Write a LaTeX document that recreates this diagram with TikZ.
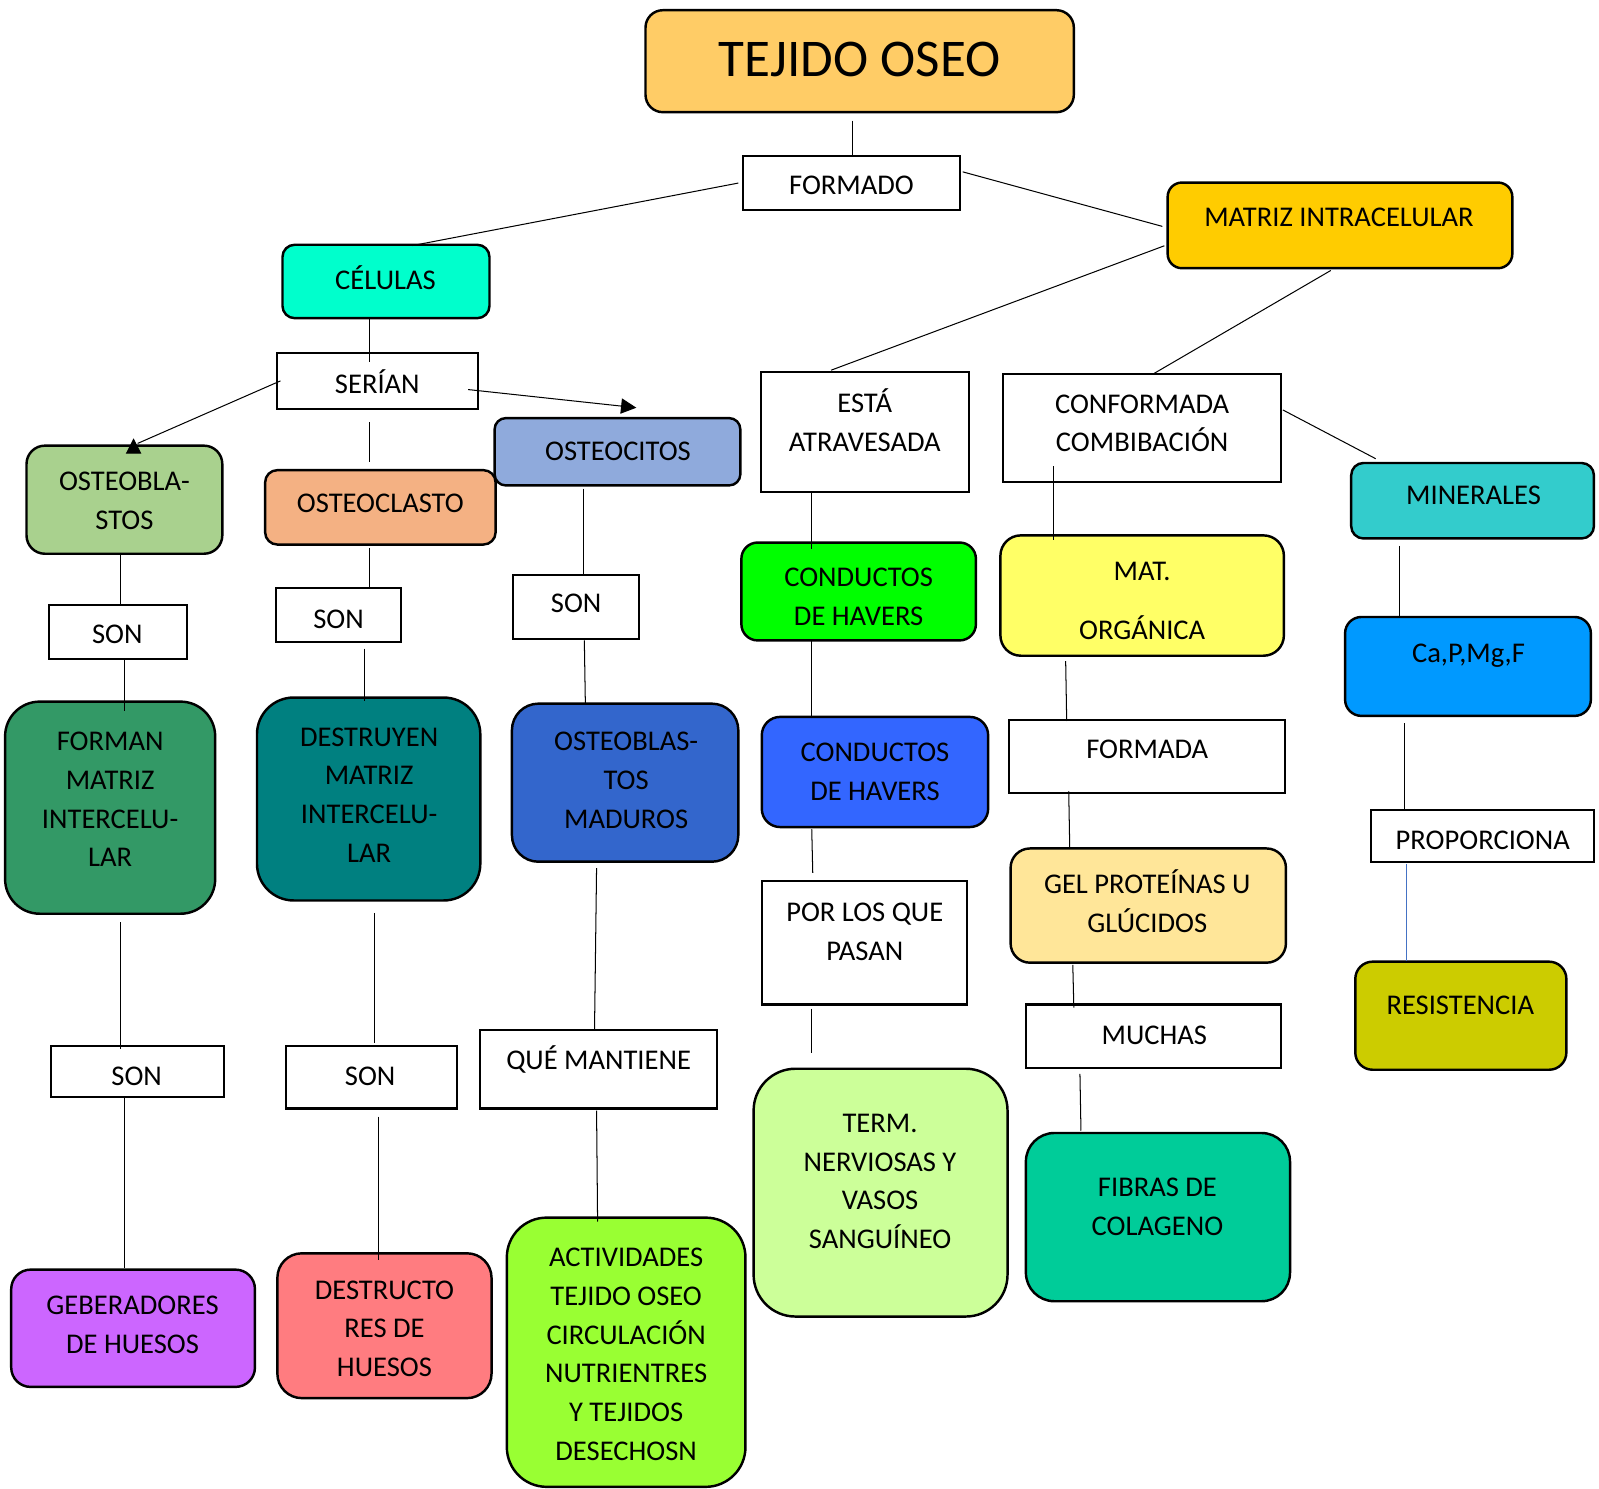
\documentclass[tikz,border=0pt]{standalone}
\usepackage{fontspec}
\setmainfont{Carlito}
\usetikzlibrary{calc,arrows.meta}
\definecolor{cTitle}{HTML}{FFCC66}
\definecolor{cMatriz}{HTML}{FFCC00}
\definecolor{cCel}{HTML}{00FFCC}
\definecolor{cOblast}{HTML}{A9D18E}
\definecolor{cOclast}{HTML}{F4B183}
\definecolor{cOcit}{HTML}{8FAADC}
\definecolor{cMin}{HTML}{33CCCC}
\definecolor{cCondA}{HTML}{00FF00}
\definecolor{cMatOrg}{HTML}{FFFF66}
\definecolor{cCa}{HTML}{0099FF}
\definecolor{cForman}{HTML}{339966}
\definecolor{cDestr}{HTML}{008080}
\definecolor{cMad}{HTML}{3366CC}
\definecolor{cCondB}{HTML}{3366FF}
\definecolor{cGel}{HTML}{FFE699}
\definecolor{cRes}{HTML}{CCCC00}
\definecolor{cTerm}{HTML}{CCFF99}
\definecolor{cFib}{HTML}{00CC99}
\definecolor{cGeb}{HTML}{CC66FF}
\definecolor{cDtor}{HTML}{FF7C80}
\definecolor{cAct}{HTML}{99FF33}
\definecolor{cBlueLine}{HTML}{4472C4}
\begin{document}
\begin{tikzpicture}[x=1pt,y=-1pt,
  rbox/.style={draw=black, line width=2.4pt, rounded corners=#1, inner sep=0pt},
  wbox/.style={draw=black, line width=2pt, fill=white, inner sep=0pt},
  txt/.style={align=center, inner sep=0pt, font=\fontsize{28}{38}\selectfont},
  conn/.style={line width=1pt, draw=black},
  arr/.style={conn, -{Triangle[length=15pt,width=15pt]}}
]
\useasboundingbox (0,0) rectangle (1568,1460);

% ---------- boxes ----------
\node[rbox=17pt, fill=cTitle, minimum width=420pt, minimum height=100pt] (tejido) at (843,60) {};
\node[wbox, minimum width=212pt, minimum height=53pt] (formado) at (835,179.5) {};
\node[rbox=14pt, fill=cMatriz, minimum width=338pt, minimum height=84pt] (matriz) at (1314,221) {};
\node[rbox=12pt, fill=cCel, minimum width=203pt, minimum height=72pt] (celulas) at (378.5,276) {};
\node[wbox, minimum width=197pt, minimum height=55pt] (serian) at (370.5,373.5) {};
\node[rbox=18pt, fill=cOblast, minimum width=192pt, minimum height=106pt] (oblast) at (122,490) {};
\node[rbox=12pt, fill=cOclast, minimum width=226pt, minimum height=73pt] (oclast) at (373,497.5) {};
\node[rbox=11pt, fill=cOcit, minimum width=241pt, minimum height=66pt] (ocit) at (605.5,443) {};
\node[wbox, minimum width=204pt, minimum height=117pt] (esta) at (848,423.5) {};
\node[wbox, minimum width=272pt, minimum height=106pt] (conf) at (1120,420) {};
\node[rbox=12pt, fill=cMin, minimum width=238pt, minimum height=74pt] (miner) at (1444,491) {};
\node[wbox, minimum width=135pt, minimum height=53pt] (sonA) at (115.5,619.5) {};
\node[wbox, minimum width=122pt, minimum height=53pt] (sonB) at (332,603.5) {};
\node[wbox, minimum width=124pt, minimum height=63pt] (sonC) at (565,595.5) {};
\node[rbox=16pt, fill=cCondA, minimum width=230pt, minimum height=96pt] (condA) at (842,580) {};
\node[rbox=20pt, fill=cMatOrg, minimum width=278pt, minimum height=118pt] (matorg) at (1120,584) {};
\node[rbox=16pt, fill=cCa, minimum width=241pt, minimum height=97pt] (ca) at (1439.5,653.5) {};
\node[rbox=34pt, fill=cForman, minimum width=206pt, minimum height=208pt] (forman) at (108,792) {};
\node[rbox=36pt, fill=cDestr, minimum width=219pt, minimum height=199pt] (destr) at (361.5,783.5) {};
\node[rbox=26pt, fill=cMad, minimum width=222pt, minimum height=155pt] (mad) at (613,767.5) {};
\node[rbox=18pt, fill=cCondB, minimum width=222pt, minimum height=108pt] (condB) at (858,757) {};
\node[wbox, minimum width=271pt, minimum height=72pt] (formada) at (1124.5,742) {};
\node[wbox, minimum width=219pt, minimum height=51pt] (prop) at (1453.5,819.5) {};
\node[wbox, minimum width=201pt, minimum height=121pt] (porlos) at (847.5,924.5) {};
\node[rbox=19pt, fill=cGel, minimum width=270pt, minimum height=112pt] (gel) at (1126,888) {};
\node[rbox=17pt, fill=cRes, minimum width=207pt, minimum height=106pt] (resis) at (1432.5,996) {};
\node[wbox, minimum width=250pt, minimum height=62pt] (muchas) at (1131,1016) {};
\node[wbox, minimum width=170pt, minimum height=50pt] (sonD) at (135,1051) {};
\node[wbox, minimum width=168pt, minimum height=61pt] (sonE) at (364,1056.5) {};
\node[wbox, minimum width=232pt, minimum height=77pt] (quem) at (587,1048.5) {};
\node[rbox=41pt, fill=cTerm, minimum width=249pt, minimum height=243pt] (term) at (863.5,1169.5) {};
\node[rbox=28pt, fill=cFib, minimum width=259pt, minimum height=165pt] (fibras) at (1135.5,1193.5) {};
\node[rbox=19pt, fill=cGeb, minimum width=239pt, minimum height=115pt] (geb) at (130.5,1302.5) {};
\node[rbox=24pt, fill=cDtor, minimum width=210pt, minimum height=142pt] (dtor) at (377,1300) {};
\node[rbox=39pt, fill=cAct, minimum width=234pt, minimum height=264pt] (act) at (614,1326) {};

% ---------- texts ----------
\node[txt, font=\fontsize{52}{60}\selectfont] (tejido-t) at (843,58) {TEJIDO OSEO};
\node[txt] (formado-t) at (835,182) {FORMADO};
\node[txt] (matriz-t) at (1313,213) {MATRIZ INTRACELULAR};
\node[txt] (celulas-t) at (378,272) {CÉLULAS};
\node[txt] (serian-t) at (370,374) {SERÍAN};
\node[txt] (oblast-t) at (122,491) {OSTEOBLA-\\STOS};
\node[txt] (oclast-t) at (373,494) {OSTEOCLASTO};
\node[txt] (ocit-t) at (606,442.5) {OSTEOCITOS};
\node[txt] (esta-t) at (848,412) {ESTÁ\\ATRAVESADA};
\node[txt] (conf-t) at (1120,415) {CONFORMADA\\COMBIBACIÓN};
\node[txt] (miner-t) at (1445,486) {MINERALES};
\node[txt] (sonA-t) at (115,622) {SON};
\node[txt] (sonB-t) at (332,607) {SON};
\node[txt] (sonC-t) at (565,592) {SON};
\node[txt] (condA-t) at (842,585) {CONDUCTOS\\DE HAVERS};
\node[txt] (matorg-t) at (1120,589) {MAT.\\[20pt]ORGÁNICA};
\node[txt] (ca-t) at (1440,643) {Ca,P,Mg,F};
\node[txt] (forman-t) at (108,784) {FORMAN\\MATRIZ\\INTERCELU-\\LAR};
\node[txt] (destr-t) at (362,779.5) {DESTRUYEN\\MATRIZ\\INTERCELU-\\LAR};
\node[txt] (mad-t) at (614,765) {OSTEOBLAS-\\TOS\\MADUROS};
\node[txt] (condB-t) at (858,756.5) {CONDUCTOS\\DE HAVERS};
\node[txt] (formada-t) at (1125,735) {FORMADA};
\node[txt] (prop-t) at (1454,824) {PROPORCIONA};
\node[txt] (porlos-t) at (848,914) {POR LOS QUE\\PASAN};
\node[txt] (gel-t) at (1125,884) {GEL PROTEÍNAS U\\GLÚCIDOS};
\node[txt] (resis-t) at (1432,986) {RESISTENCIA};
\node[txt] (muchas-t) at (1132,1015) {MUCHAS};
\node[txt] (sonD-t) at (134,1055) {SON};
\node[txt] (sonE-t) at (363,1055) {SON};
\node[txt] (quem-t) at (587,1039) {QUÉ MANTIENE};
\node[txt] (term-t) at (863,1158.5) {TERM.\\NERVIOSAS Y\\VASOS\\SANGUÍNEO};
\node[txt] (fibras-t) at (1135,1183.5) {FIBRAS DE\\COLAGENO};
\node[txt] (geb-t) at (130,1299) {GEBERADORES\\DE HUESOS};
\node[txt] (dtor-t) at (377,1303) {DESTRUCTO\\RES DE\\HUESOS};
\node[txt] (act-t) at (614,1328) {ACTIVIDADES\\TEJIDO OSEO\\CIRCULACIÓN\\NUTRIENTRES\\Y TEJIDOS\\DESECHOSN};

% ---------- connectors ----------
\draw[conn] ($(tejido.south)+(-7,7)$) -- ($(formado.north)+(1,0)$);
\draw[conn] ($(formado.west)+(-4,0)$) -- ($(celulas.north)+(26,2)$);
\draw[conn] ($(formado.east)+(2,-11)$) -- ($(matriz.west)+(-4,1)$);
\draw[conn] ($(matriz.west)+(-2,20)$) -- ($(esta.north)+(-33,-1)$);
\draw[conn] ($(matriz.south)+(-9,1)$) -- ($(conf.north)+(12,0)$);
\draw[conn] ($(celulas.south)+(-16.5,0)$) -- ($(serian.north)+(-8.5,10)$);
\draw[conn] ($(serian.west)+(4,0)$) -- ($(oblast.north)+(13,-1)$);
\draw[arr] ($(oblast.north)+(9,7)$) -- ($(oblast.north)+(9,-6)$);
\draw[arr] ($(serian.east)+(-11,8.5)$) -- ($(ocit.north)+(18.5,-9)$);
\draw[conn] ($(serian.south)+(-8.5,12)$) -- ($(oclast.north)+(-11,-7)$);
\draw[conn] ($(oblast.south)+(-4,-2)$) -- ($(sonA.north)+(2.5,0)$);
\draw[conn] ($(sonA.south)+(6.5,0)$) -- ($(forman.north)+(14,10)$);
\draw[conn] ($(oclast.south)+(-11,2)$) -- ($(sonB.north)+(30,0)$);
\draw[conn] ($(sonB.south)+(25,5)$) -- ($(destr.north)+(-4.5,5)$);
\draw[conn] ($(ocit.south)+(-33.5,2)$) -- ($(sonC.north)+(7,0)$);
\draw[conn] ($(sonC.south)+(8,0)$) -- ($(mad.north)+(-39,1)$);
\draw[conn] ($(mad.south)+(-28,5)$) -- ($(quem.north)+(-4,0)$);
\draw[conn] ($(quem.south)+(-2,1)$) -- ($(act.north)+(-28,5)$);
\draw[conn] ($(forman.south)+(10,7)$) -- ($(sonD.north)+(-17,4)$);
\draw[conn] ($(sonD.south)+(-13,0)$) -- ($(geb.north)+(-8.5,0)$);
\draw[conn] ($(destr.south)+(5.5,11)$) -- ($(sonE.north)+(3,-2)$);
\draw[conn] ($(sonE.south)+(7,7)$) -- ($(dtor.north)+(-6,8)$);
\draw[conn] ($(esta.south)+(-52,-1)$) -- ($(condA.north)+(-46,8)$);
\draw[conn] ($(condA.south)+(-46,-1)$) -- ($(condB.north)+(-62,0)$);
\draw[conn] ($(condB.south)+(-62,1)$) -- ($(porlos.north)+(-50.5,-7)$);
\draw[conn] ($(porlos.south)+(-51.5,3)$) -- ($(term.north)+(-67.5,-14)$);
\draw[conn] ($(conf.south)+(-87,-17)$) -- ($(matorg.north)+(-87,6)$);
\draw[conn] ($(matorg.south)+(-75,4)$) -- ($(formada.north)+(-78.5,2)$);
\draw[conn] ($(formada.south)+(-76.5,-3)$) -- ($(gel.north)+(-77,1)$);
\draw[conn] ($(gel.south)+(-74,1)$) -- ($(muchas.north)+(-78,4)$);
\draw[conn] ($(muchas.south)+(-72,5)$) -- ($(fibras.north)+(-75.5,-1)$);
\draw[conn] ($(conf.east)+(1,-18)$) -- ($(miner.north)+(-95,-3)$);
\draw[conn] ($(miner.south)+(-72,6)$) -- ($(ca.north)+(-67.5,0)$);
\draw[conn] ($(ca.south)+(-62.5,6)$) -- ($(prop.north)+(-76.5,0)$);
\draw[conn, draw=cBlueLine] ($(prop.south)+(-74.5,1)$) -- ($(resis.north)+(-53.5,1)$);
\end{tikzpicture}
\end{document}
